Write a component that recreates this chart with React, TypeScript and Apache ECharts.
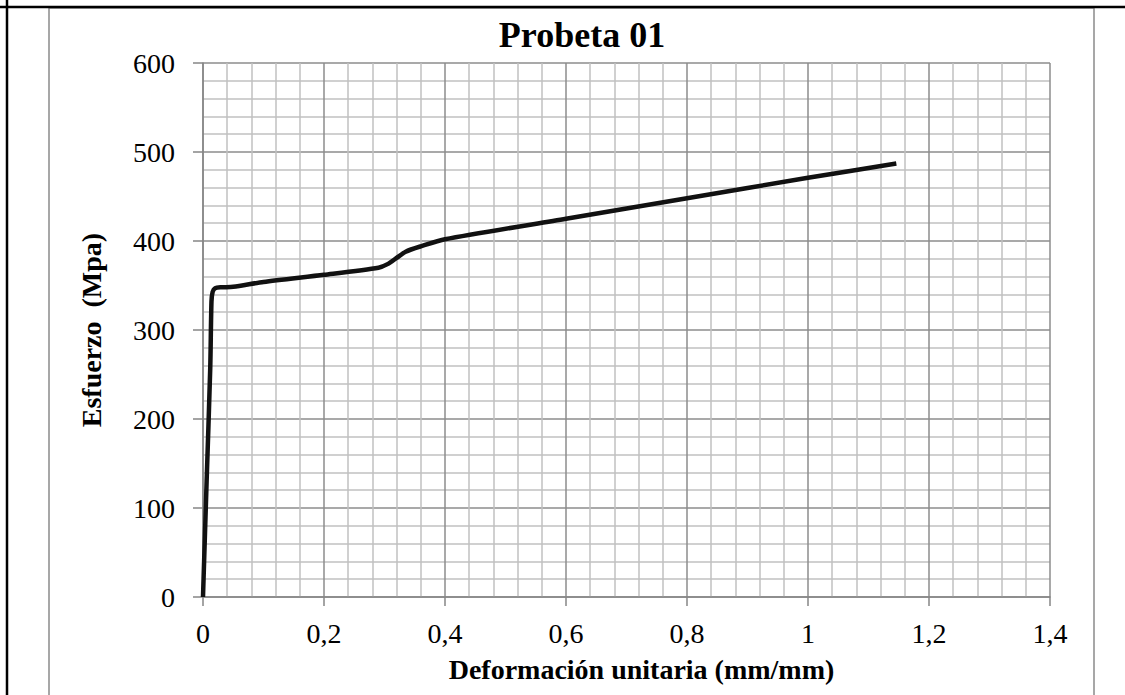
import React, { useEffect, useRef } from "react";
import * as echarts from "echarts";

const titleText = "Probeta 01";
const xName = "Deformación unitaria (mm/mm)";
const yName = "Esfuerzo  (Mpa)";

const strain = [0, 0.006, 0.012, 0.014, 0.016, 0.02, 0.03, 0.05, 0.1, 0.2, 0.29, 0.305, 0.32, 0.335, 0.36, 0.4, 0.6, 0.8, 1.0, 1.146];
const stress = [0, 130, 258, 332, 343, 347, 348, 348.5, 354, 362, 370, 374, 381, 388, 394, 402, 425, 448, 471, 487];

const xMin = 0, xMax = 1.4, xStep = 0.2;
const yMin = 0, yMax = 600, yStep = 100;

const FONT = "'Liberation Serif', 'Times New Roman', serif";

export default function App() {
  const ref = useRef<HTMLDivElement>(null);
  useEffect(() => {
    document.body.style.margin = "0";
    const chart = echarts.init(ref.current!, null, { renderer: "svg" });
    const data = strain.map((x, i) => [x, stress[i]]);
    chart.setOption({
      animation: false,
      backgroundColor: "#fff",
      title: {
        text: titleText,
        left: 577,
        textAlign: "center",
        top: 12,
        textStyle: { fontFamily: FONT, fontWeight: "bold", fontSize: 36, color: "#000" },
      },
      graphic: [
        { type: "rect", shape: { x: 49, y: 8, width: 1045, height: 700 }, style: { fill: "none", stroke: "#8a8a8a", lineWidth: 1.5 }, silent: true, z: -1 },
        { type: "line", shape: { x1: 0, y1: 7, x2: 1125, y2: 7 }, style: { stroke: "#000", lineWidth: 2.5 } },
        { type: "line", shape: { x1: 7, y1: 0, x2: 7, y2: 695 }, style: { stroke: "#000", lineWidth: 2.5 } },
      ],
      grid: { left: 203, top: 63, right: 75, bottom: 98, containLabel: false },
      xAxis: {
        type: "value",
        min: xMin,
        max: xMax,
        interval: xStep,
        name: xName,
        nameLocation: "middle",
        nameGap: 58,
        nameTextStyle: { fontFamily: FONT, fontWeight: "bold", fontSize: 28, color: "#000", padding: [0, 0, 0, 30] },
        axisLine: { show: true, lineStyle: { color: "#868686", width: 1.5 } },
        axisTick: { show: true, length: 9, lineStyle: { color: "#868686", width: 1.5 } },
        axisLabel: {
          fontFamily: FONT, fontSize: 28, color: "#000", margin: 22,
          formatter: (v: number) => String(Math.round(v * 10) / 10).replace(".", ","),
        },
        splitLine: { show: true, lineStyle: { color: "#8c8c8c", width: 1.5 } },
        minorTick: { show: false, splitNumber: 5 },
        minorSplitLine: { show: true, lineStyle: { color: "#c0c0c0", width: 1.5 } },
      },
      yAxis: {
        type: "value",
        min: yMin,
        max: yMax,
        interval: yStep,
        name: yName,
        nameLocation: "middle",
        nameGap: 98,
        nameTextStyle: { fontFamily: FONT, fontWeight: "bold", fontSize: 28, color: "#000" },
        axisLine: { show: true, lineStyle: { color: "#868686", width: 1.5 } },
        axisTick: { show: true, length: 10, lineStyle: { color: "#868686", width: 1.5 } },
        axisLabel: { fontFamily: FONT, fontSize: 28, color: "#000", margin: 28 },
        splitLine: { show: true, lineStyle: { color: "#8c8c8c", width: 1.5 } },
        minorTick: { show: false, splitNumber: 5 },
        minorSplitLine: { show: true, lineStyle: { color: "#c0c0c0", width: 1.5 } },
      },
      series: [
        {
          type: "line",
          data,
          showSymbol: false,
          smooth: 0.25,
          lineStyle: { color: "#111", width: 4.5 },
          z: 5,
        },
      ],
    });
    return () => chart.dispose();
  }, []);
  return <div ref={ref} style={{ position: "fixed", left: 0, top: 0, width: 1125, height: 695 }} />;
}
